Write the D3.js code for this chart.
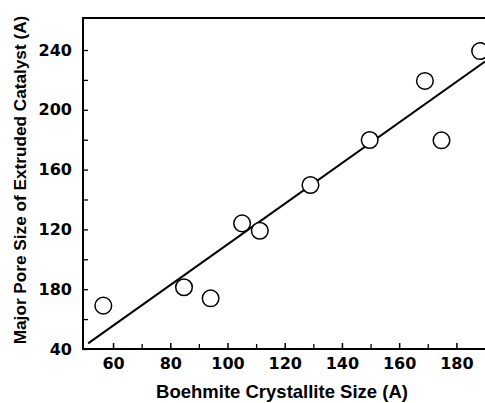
<!DOCTYPE html>
<html><head><meta charset="utf-8">
<script src="https://cdn.jsdelivr.net/npm/d3@7"></script>
<style>body{margin:0;background:#fff}svg{display:block}</style>
</head><body>
<svg id="c" width="485" height="403"></svg>
<script>
const crystalliteSize = [56.6, 84.8, 94.1, 105.1, 111.3, 129.0, 149.7, 169.0, 174.8, 188.3];
const poreSize = [69.0, 81.3, 73.9, 124.0, 119.1, 149.7, 179.8, 219.3, 179.6, 239.3];
const fitX = [51.3, 190];
const fitY = [43.8, 232.3];
const xTicks = [60, 80, 100, 120, 140, 160, 180];
const xTickLabels = ["60", "80", "100", "120", "140", "160", "180"];
const xMinor = [70, 90, 110, 130, 150, 170];
const yTicks = [40, 80, 120, 160, 200, 240];
const yTickLabels = ["40", "180", "120", "160", "200", "240"];
const yMinor = [60, 100, 140, 180, 220];
const xTitle = "Boehmite Crystallite Size (A)";
const yTitle = "Major Pore Size of Extruded Catalyst (A)";

const svg = d3.select("#c");
const L = 83, T = 18, B = 349, R = 485;
const x = d3.scaleLinear().domain([49.5, 190]).range([L, R]);
const y = d3.scaleLinear().domain([40, 261.4]).range([B, T]);

const tickFont = "'DejaVu Sans', sans-serif";
const titleFont = "'Liberation Sans', Arial, sans-serif";

// frame
svg.append("path")
  .attr("d", `M${R + 3},${T}H${L}V${B}H${R + 3}`)
  .attr("fill", "none").attr("stroke", "#000").attr("stroke-width", 2);

// bottom axis (ticks inward)
const xAxis = d3.axisBottom(x).tickValues(xTicks).tickSize(-6)
  .tickFormat((d, i) => xTickLabels[i]).tickPadding(9);
const gx = svg.append("g").attr("transform", `translate(0,${B})`).call(xAxis);
gx.select(".domain").remove();
gx.selectAll(".tick line").attr("stroke", "#000").attr("stroke-width", 1.5);
gx.selectAll(".tick text").attr("font-family", tickFont).attr("font-weight", "bold")
  .attr("font-size", 16).attr("fill", "#000");
const gxm = svg.append("g").attr("transform", `translate(0,${B})`)
  .call(d3.axisBottom(x).tickValues(xMinor).tickSize(-5).tickFormat(""));
gxm.select(".domain").remove();
gxm.selectAll(".tick line").attr("stroke", "#000").attr("stroke-width", 1.3);

// left axis (ticks inward)
const yAxis = d3.axisLeft(y).tickValues(yTicks).tickSize(-5)
  .tickFormat((d, i) => yTickLabels[i]).tickPadding(11);
const gy = svg.append("g").attr("transform", `translate(${L},0)`).call(yAxis);
gy.select(".domain").remove();
gy.selectAll(".tick line").attr("stroke", "#000").attr("stroke-width", 1.3);
gy.selectAll(".tick text").attr("font-family", tickFont).attr("font-weight", "bold")
  .attr("font-size", 16).attr("fill", "#000");
const gym = svg.append("g").attr("transform", `translate(${L},0)`)
  .call(d3.axisLeft(y).tickValues(yMinor).tickSize(-5).tickFormat(""));
gym.select(".domain").remove();
gym.selectAll(".tick line").attr("stroke", "#000").attr("stroke-width", 1.3);

// fit line
const line = d3.line().x(d => x(d[0])).y(d => y(d[1]));
svg.append("path").datum(fitX.map((v, i) => [v, fitY[i]]))
  .attr("d", line).attr("fill", "none").attr("stroke", "#000").attr("stroke-width", 2);

// points
svg.append("g").selectAll("circle").data(crystalliteSize).join("circle")
  .attr("cx", d => x(d)).attr("cy", (d, i) => y(poreSize[i])).attr("r", 8.3)
  .attr("fill", "#fff").attr("stroke", "#000").attr("stroke-width", 1.5);

// titles
svg.append("text").attr("x", 282).attr("y", 398).attr("text-anchor", "middle")
  .attr("font-family", titleFont).attr("font-weight", "bold").attr("font-size", 18.5)
  .attr("fill", "#000").text(xTitle);
svg.append("text").attr("transform", "translate(25.5,180) rotate(-90)")
  .attr("text-anchor", "middle")
  .attr("font-family", titleFont).attr("font-weight", "bold").attr("font-size", 17.2)
  .attr("fill", "#000").text(yTitle);
</script>
</body></html>
